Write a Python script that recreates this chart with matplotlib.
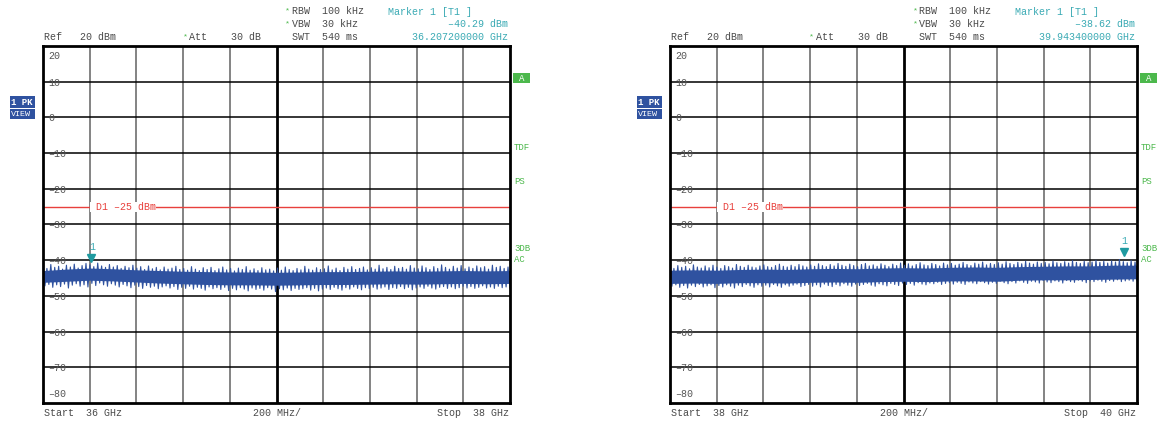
import numpy as np
import matplotlib
matplotlib.use("Agg")
import matplotlib.pyplot as plt
from matplotlib.patches import Rectangle
from matplotlib.transforms import offset_copy, blended_transform_factory

# ---------------- data ----------------
left_span = [36.0, 38.0]          # GHz
right_span = [38.0, 40.0]         # GHz
ref_levels = [20, 10, 0, -10, -20, -30, -40, -50, -60, -70, -80]
display_line = -25                # dBm

left_marker_freq = 36.2072
left_marker_level = -40.29
right_marker_freq = 39.9434
right_marker_level = -38.62

# solid core of the noise band (dBm, every 100 MHz)
left_core_top = [-42.9, -42.5, -42.2, -42.4, -42.7, -42.9, -43.1, -43.2, -43.3, -43.3, -43.4,
                 -43.3, -43.2, -43.2, -43.1, -43.0, -43.1, -43.0, -42.9, -43.0, -42.9]
left_core_bottom = [-46.2, -45.9, -45.6, -45.8, -46.1, -46.4, -46.6, -46.8, -46.9, -46.9, -47.0,
                    -46.9, -46.8, -46.8, -46.7, -46.6, -46.7, -46.6, -46.5, -46.6, -46.5]
right_core_top = [-42.8, -42.7, -42.8, -42.6, -42.5, -42.6, -42.4, -42.3, -42.4, -42.2, -42.1,
                  -42.2, -42.0, -41.9, -42.0, -41.8, -41.7, -41.6, -41.6, -41.4, -41.4]
right_core_bottom = [-46.5, -46.4, -46.5, -46.3, -46.3, -46.4, -46.2, -46.1, -46.2, -46.0, -45.9,
                     -46.0, -45.8, -45.8, -45.9, -45.6, -45.5, -45.5, -45.4, -45.3, -45.2]

# noise spikes: peaks and troughs of the trace (dBm)
left_peaks = [-41.6, -42.3, -41.2, -42.0, -41.7, -42.5, -41.4, -41.9, -41.1, -42.2, -41.5, -40.9,
              -41.3, -41.8, -40.8, -41.6, -42.0, -41.2, -41.9, -41.5, -42.3, -41.7, -42.1, -41.4,
              -42.2, -41.8, -42.6, -41.6, -42.4, -42.0, -42.7, -41.9, -42.5, -42.2, -41.7, -42.6,
              -42.3, -42.8, -41.8, -42.5, -42.9, -42.1, -42.6, -42.0, -42.9, -42.4, -41.9, -42.7,
              -42.3, -43.0, -42.2, -42.6, -41.8, -42.8, -42.4, -42.9, -42.1, -42.7, -42.5, -43.0,
              -42.2, -42.8, -41.9, -42.6, -42.9, -42.3, -42.7, -41.7, -42.5, -42.8, -42.1, -42.6,
              -42.4, -41.6, -42.7, -42.2, -42.9, -42.0, -42.5, -41.8, -42.6, -42.3, -41.9, -42.7,
              -42.1, -42.5, -41.4, -42.4, -42.0, -42.6, -41.7, -42.3, -42.0, -42.5, -41.5, -42.2,
              -42.4, -41.6, -42.1, -42.6, -41.8, -42.3, -41.3, -42.0, -42.5, -41.7, -42.2, -41.5,
              -42.4, -41.9, -42.3, -41.6, -42.1, -41.8, -42.5, -41.4, -42.0, -41.7, -42.3, -41.9]
left_troughs = [-47.2, -46.8, -47.6, -46.9, -47.4, -46.7, -47.8, -47.0, -46.6, -47.3, -46.9, -47.5,
                -46.5, -47.1, -46.4, -46.9, -47.3, -46.6, -47.0, -47.5, -46.8, -47.2, -47.7, -47.0,
                -47.4, -47.9, -47.1, -47.6, -47.3, -48.0, -47.5, -47.2, -47.8, -47.4, -48.2, -47.6,
                -47.9, -47.3, -48.1, -47.6, -47.9, -48.4, -47.5, -48.0, -47.7, -48.2, -47.6, -48.5,
                -47.9, -48.3, -47.7, -48.1, -48.6, -47.8, -48.2, -47.9, -48.4, -47.7, -48.1, -48.8,
                -48.0, -48.3, -47.8, -48.5, -47.9, -48.2, -48.0, -47.7, -48.4, -47.9, -48.6, -48.1,
                -47.8, -48.2, -47.6, -48.0, -48.4, -47.7, -48.1, -47.5, -47.9, -48.3, -47.7, -48.0,
                -47.6, -48.1, -47.8, -47.5, -48.2, -47.7, -47.9, -47.4, -48.0, -47.6, -48.3, -47.8,
                -47.5, -47.9, -47.3, -47.8, -48.1, -47.6, -47.4, -47.9, -47.5, -48.0, -47.7, -47.3,
                -47.8, -47.4, -47.9, -47.6, -47.2, -47.8, -47.5, -47.9, -47.3, -47.7, -47.5, -47.8]
right_peaks = [-41.8, -42.3, -41.5, -42.0, -41.7, -42.4, -41.3, -41.9, -42.2, -41.6, -42.1, -41.4,
               -41.9, -42.3, -41.5, -41.8, -42.2, -41.2, -41.7, -42.0, -41.4, -41.9, -42.1, -41.6,
               -41.3, -41.8, -42.0, -41.5, -41.1, -41.7, -41.9, -41.4, -41.8, -41.2, -41.6, -41.9,
               -41.3, -41.7, -41.0, -41.5, -41.8, -41.2, -41.6, -40.9, -41.4, -41.7, -41.1, -41.5,
               -41.8, -41.2, -40.9, -41.6, -41.3, -41.7, -41.0, -41.4, -41.8, -41.1, -41.5, -40.8,
               -41.4, -41.0, -41.6, -41.2, -40.7, -41.3, -41.5, -40.9, -41.2, -41.6, -40.8, -41.3,
               -40.9, -41.4, -41.1, -40.6, -41.2, -41.5, -40.8, -41.1, -40.5, -41.3, -40.9, -41.2,
               -40.7, -41.1, -40.4, -40.9, -41.2, -40.6, -41.0, -40.3, -40.8, -41.1, -40.5, -40.9,
               -40.6, -41.0, -40.2, -40.7, -40.9, -40.4, -40.8, -40.1, -40.6, -40.9, -40.3, -40.7,
               -40.5, -40.0, -40.6, -40.3, -40.8, -40.2, -40.5, -39.8, -40.4, -40.7, -40.1, -40.5]
right_troughs = [-47.3, -46.9, -47.6, -47.1, -47.8, -47.0, -47.4, -46.8, -47.5, -47.2, -46.9, -47.7,
                 -47.1, -47.5, -46.9, -47.3, -47.8, -47.0, -47.4, -46.8, -47.2, -47.6, -46.9, -47.3,
                 -47.0, -47.5, -46.8, -47.2, -47.6, -46.9, -47.3, -47.0, -46.7, -47.4, -47.1, -46.8,
                 -47.3, -46.9, -47.5, -46.7, -47.1, -47.4, -46.8, -47.2, -46.6, -47.0, -47.3, -46.7,
                 -47.1, -46.8, -46.5, -47.0, -47.3, -46.6, -46.9, -47.2, -46.5, -46.8, -47.1, -46.4,
                 -46.8, -46.5, -47.0, -46.3, -46.7, -46.9, -46.4, -46.6, -46.2, -46.8, -46.5, -46.3,
                 -46.7, -46.2, -46.5, -46.8, -46.1, -46.4, -46.6, -46.0, -46.3, -46.7, -46.2, -46.5,
                 -45.9, -46.3, -46.6, -46.0, -46.4, -45.8, -46.2, -46.5, -45.9, -46.1, -46.4, -45.7,
                 -46.1, -46.3, -45.8, -46.0, -46.4, -45.7, -46.0, -46.2, -45.6, -45.9, -46.3, -45.8,
                 -46.0, -45.6, -45.9, -46.2, -45.7, -45.9, -45.5, -46.0, -45.8, -45.6, -45.9, -45.7]

left_header = {"start": "Start  36 GHz", "stop": "Stop  38 GHz",
               "mlevel": "\u201340.29 dBm", "mfreq": "36.207200000 GHz"}
right_header = {"start": "Start  38 GHz", "stop": "Stop  40 GHz",
                "mlevel": "\u201338.62 dBm", "mfreq": "39.943400000 GHz"}

# ---------------- style ----------------
W, H = 1161, 423
FONT = "Liberation Mono"
FS = 7.2
GRAY = "#4a4a4a"
TEAL = "#3aaab4"
GREEN = "#4cb84c"
BLUE = "#2f52a0"
RED = "#e8403c"

fig = plt.figure(figsize=(W / 100, H / 100), dpi=100)
fig.patch.set_facecolor("white")


def fx(px):
    return px / W


def fy(py):
    return 1 - py / H


def ftext(px, py, s, color=GRAY, ha="left", **kw):
    fig.text(fx(px), fy(py), s, color=color, ha=ha, va="center",
             fontsize=FS, family=FONT, **kw)


def star(px, py):
    fig.text(fx(px), fy(py), "*", color=GREEN, ha="center", va="center",
             fontsize=6, family=FONT)


def panel(x0, span, core_top, core_bottom, peaks, troughs, mfreq, mlevel, hdr):
    x1 = x0 + 467
    ax = fig.add_axes([fx(x0), fy(403), fx(x1) - fx(x0), fy(46) - fy(403)])
    ax.set_xlim(span)
    ax.set_ylim(ref_levels[-1], ref_levels[0])
    ax.set_xticks([])
    ax.set_yticks([])
    for s in ax.spines.values():
        s.set_linewidth(2.0)
        s.set_color("black")
        s.set_zorder(10)

    # grid
    xs = np.linspace(span[0], span[1], 11)
    for i, xv in enumerate(xs[1:-1], start=1):
        if i == 5:
            ax.axvline(xv, color="black", lw=2.0, zorder=1)
        else:
            ax.axvline(xv, color="#7a7a7a", lw=1.3, zorder=1)
    for yv in ref_levels[1:-1]:
        ax.axhline(yv, color="black", lw=1.1, zorder=1)

    # y labels inside the grid
    tr = blended_transform_factory(ax.transAxes, ax.transData)
    for yv in ref_levels:
        lab = str(yv).replace("-", "\u2013")
        if yv == ref_levels[0]:
            t = offset_copy(tr, fig=fig, x=5, y=-5, units="dots")
            ax.text(0, yv, lab, transform=t, va="top", ha="left",
                    fontsize=FS, family=FONT, color="#555555", zorder=3)
        elif yv == ref_levels[-1]:
            t = offset_copy(tr, fig=fig, x=5, y=4, units="dots")
            ax.text(0, yv, lab, transform=t, va="bottom", ha="left",
                    fontsize=FS, family=FONT, color="#555555", zorder=3)
        else:
            t = offset_copy(tr, fig=fig, x=5, y=-1, units="dots")
            ax.text(0, yv, lab, transform=t, va="center", ha="left",
                    fontsize=FS, family=FONT, color="#555555", zorder=3)

    # display line
    ax.axhline(display_line, color=RED, lw=1.0, zorder=2)
    ax.text(xs[1], display_line, " D1 \u201325 dBm", color=RED, va="center",
            ha="left", fontsize=FS, family=FONT, zorder=3,
            bbox=dict(facecolor="white", edgecolor="none", pad=0.0))

    # trace: solid core + zigzag through the spikes
    fcore = np.linspace(span[0], span[1], len(core_top))
    ax.fill_between(fcore, core_bottom, core_top, color=BLUE, lw=0, zorder=4)
    n = len(peaks) + len(troughs)
    trace = np.empty(n)
    trace[0::2] = peaks
    trace[1::2] = troughs
    freqs = np.linspace(span[0], span[1], n)
    ax.plot(freqs, trace, color=BLUE, lw=0.8, zorder=4)

    # marker
    tm = offset_copy(ax.transData, fig=fig, x=0, y=3, units="dots")
    ax.plot([mfreq], [mlevel], marker="v", color="#1f9aa0", markersize=5.5,
            transform=tm, zorder=6, clip_on=False, linestyle="none")
    tl = offset_copy(ax.transData, fig=fig, x=1, y=9, units="dots")
    ax.text(mfreq, mlevel, "1", transform=tl, color=TEAL, ha="center",
            va="bottom", fontsize=FS, family=FONT, zorder=6)

    # header texts
    d = x0 - 43
    star(288 + d, 11)
    ftext(292 + d, 11, "RBW  100 kHz")
    star(288 + d, 24)
    ftext(292 + d, 24, "VBW  30 kHz")
    ftext(292 + d, 37, "SWT  540 ms")
    ftext(44 + d, 37, "Ref   20 dBm")
    star(185 + d, 37)
    ftext(189 + d, 37, "Att    30 dB")
    ftext(388 + d, 12, "Marker 1 [T1 ]", color=TEAL)
    ftext(508 + d, 24, hdr["mlevel"], color=TEAL, ha="right")
    ftext(508 + d, 37, hdr["mfreq"], color=TEAL, ha="right")

    # footer
    ftext(44 + d, 413, hdr["start"])
    ftext(277 + d, 413, "200 MHz/", ha="center")
    ftext(509 + d, 413, hdr["stop"], ha="right")

    # right-side annotations
    fig.patches.append(Rectangle((fx(513 + d), fy(83)), fx(17), fy(73) - fy(83),
                                 transform=fig.transFigure, facecolor=GREEN,
                                 edgecolor="none"))
    fig.text(fx(522 + d), fy(78.5), "A", color="white", ha="center", va="center",
             fontsize=6.5, family=FONT)
    for lab, py in [("TDF", 147), ("PS", 181), ("3DB", 248), ("AC", 260)]:
        fig.text(fx(514 + d), fy(py), lab, color=GREEN, ha="left", va="center",
                 fontsize=6.5, family=FONT)

    # left-side trace box
    fig.patches.append(Rectangle((fx(10 + d), fy(108)), fx(25), fy(96) - fy(108),
                                 transform=fig.transFigure, facecolor=BLUE,
                                 edgecolor="none"))
    fig.patches.append(Rectangle((fx(10 + d), fy(119)), fx(25), fy(109.5) - fy(119),
                                 transform=fig.transFigure, facecolor=BLUE,
                                 edgecolor="none"))
    t1 = fig.text(fx(11 + d), fy(102.5), "1 PK", color="white", ha="left",
                  va="center", fontsize=6.5, family=FONT, weight="bold")
    t2 = fig.text(fx(10.5 + d), fy(114.5), "VIEW", color="white", ha="left",
                  va="center", fontsize=6.0, family=FONT)
    clip = Rectangle((fx(10 + d), fy(119)), fx(25), fy(96) - fy(119),
                     transform=fig.transFigure, facecolor="none", edgecolor="none")
    fig.patches.append(clip)
    t1.set_clip_path(clip)
    t2.set_clip_path(clip)
    return ax


panel(43, left_span, left_core_top, left_core_bottom, left_peaks, left_troughs,
      left_marker_freq, left_marker_level, left_header)
panel(670, right_span, right_core_top, right_core_bottom, right_peaks, right_troughs,
      right_marker_freq, right_marker_level, right_header)

fig.savefig("out.png", dpi=100, facecolor="white")
